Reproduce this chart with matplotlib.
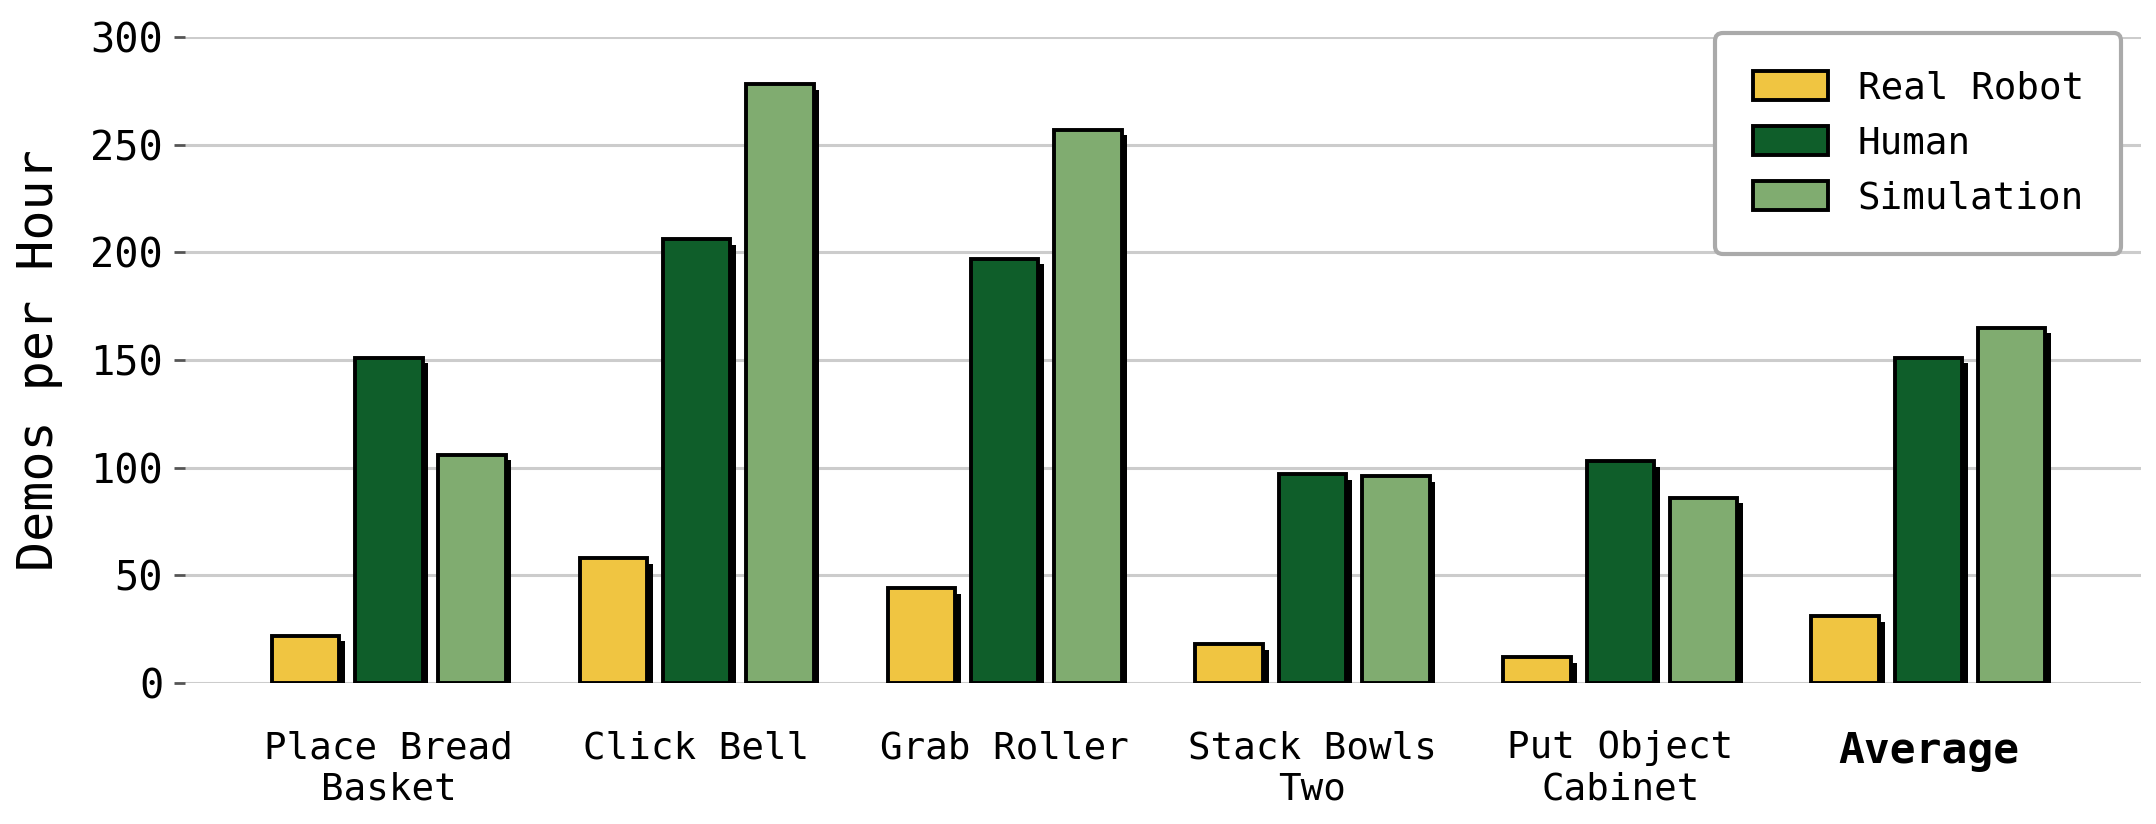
import matplotlib
matplotlib.use("Agg")
import matplotlib.pyplot as plt
import matplotlib.patheffects as pe
import numpy as np

CATEGORIES = ["Place Bread\nBasket", "Click Bell", "Grab Roller",
              "Stack Bowls\nTwo", "Put Object\nCabinet", "Average"]
REAL_ROBOT = [22, 58, 44, 18, 12, 31]
HUMAN = [151, 206, 197, 97, 103, 151]
SIMULATION = [106, 278, 257, 96, 86, 165]

SERIES = [
    ("Real Robot", REAL_ROBOT, "#F0C541"),
    ("Human", HUMAN, "#0F5E2A"),
    ("Simulation", SIMULATION, "#80AC70"),
]

plt.rcParams["font.family"] = ["DejaVu Sans Mono", "DejaVu Sans"]

fig = plt.figure(figsize=(10.78, 4.12), dpi=200)
ax = fig.add_axes([0.086, 0.171, 0.907, 0.784])

x = np.arange(len(CATEGORIES))
width = 0.22
step = 0.27
shadow = [pe.SimplePatchShadow(offset=(2, -2), shadow_rgbFace="black", alpha=1.0),
          pe.Normal()]

for i, (label, vals, color) in enumerate(SERIES):
    bars = ax.bar(x + (i - 1) * step, vals, width, color=color, edgecolor="black",
                  linewidth=1.4, label=label, zorder=3)
    for b in bars:
        b.set_path_effects(shadow)

ax.set_ylim(0, 300)
ax.set_xlim(-0.66, 5.69)
ax.set_yticks([0, 50, 100, 150, 200, 250, 300])
ax.tick_params(axis="y", labelsize=14.5, length=4, width=1, color="#555555", pad=4)
ax.set_xticks(x)
ax.set_xticklabels(CATEGORIES, fontsize=13.5)
ax.tick_params(axis="x", length=0, pad=17)
xt = ax.get_xticklabels()[-1]
xt.set_fontweight("bold")
xt.set_fontsize(15.5)

ax.set_ylabel("Demos per Hour", fontsize=18, labelpad=10)
ax.grid(axis="y", color="#cccccc", linewidth=1.1, zorder=0)
for s in ax.spines.values():
    s.set_visible(False)

leg = ax.legend(loc="upper right", fontsize=13.5, frameon=True, fancybox=True,
                borderpad=1.0, handlelength=2.0, handleheight=0.8, labelspacing=0.5,
                handletextpad=0.8, borderaxespad=0, bbox_to_anchor=(0.99, 1.006))
for h in leg.legend_handles:
    h.set_path_effects([])
leg.get_frame().set_edgecolor("#aaaaaa")
leg.get_frame().set_linewidth(1.5)
leg.get_frame().set_alpha(1.0)

fig.savefig("out.png", dpi=200)
